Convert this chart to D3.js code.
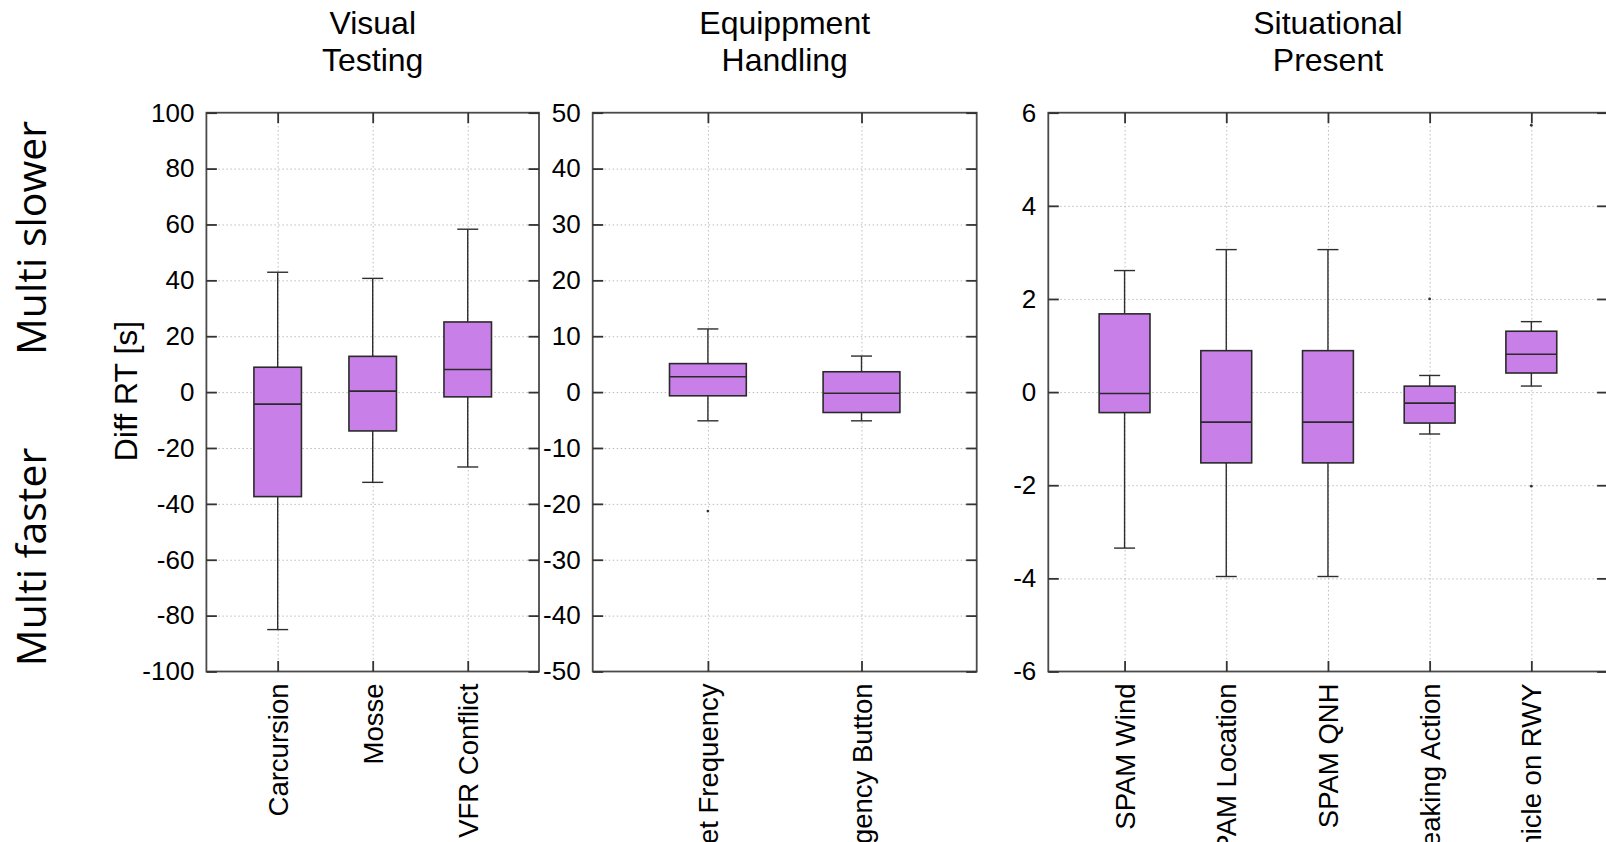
<!DOCTYPE html>
<html>
<head>
<meta charset="utf-8" />
<title>Diff RT boxplots</title>
<style>
html, body {
    margin: 0;
    padding: 0;
    background: #fff;
}
#chart {
    width: 1606px;
    height: 842px;
    overflow: hidden;
}
</style>
</head>
<body>
<div id="chart"></div>
<script src="https://cdn.jsdelivr.net/npm/d3@7"></script>
<script>
!(function(){
    "use strict"

    // ---- data ----
    var visualCats = ["Carcursion", "Mosse", "VFR Conflict"]
    var visualLow  = [-85.0, -32.3, -26.8]
    var visualQ1   = [-37.4, -13.9, -1.7]
    var visualMed  = [-4.3, 0.35, 8.1]
    var visualQ3   = [8.9, 12.8, 25.1]
    var visualHigh = [42.9, 40.7, 58.3]
    var visualOut  = []   // [category index, value]
    var visualTicks = [-100, -80, -60, -40, -20, 0, 20, 40, 60, 80, 100]

    var equipCats = ["Set Frequency", "Emergency Button"]
    var equipLow  = [-5.14, -5.14]
    var equipQ1   = [-0.66, -3.65]
    var equipMed  = [2.74, -0.2]
    var equipQ3   = [5.1, 3.64]
    var equipHigh = [11.3, 6.45]
    var equipOut  = [[0, -21.3]]
    var equipTicks = [-50, -40, -30, -20, -10, 0, 10, 20, 30, 40, 50]

    var situCats = ["SPAM Wind", "SPAM Location", "SPAM QNH", "Breaking Action", "Vehicle on RWY"]
    var situLow  = [-3.35, -3.96, -3.96, -0.90, 0.13]
    var situQ1   = [-0.44, -1.52, -1.52, -0.665, 0.41]
    var situMed  = [-0.03, -0.645, -0.645, -0.236, 0.814]
    var situQ3   = [1.68, 0.89, 0.89, 0.128, 1.307]
    var situHigh = [2.61, 3.06, 3.06, 0.357, 1.513]
    var situOut  = [[3, 2.0], [4, 5.73], [4, -2.02]]
    var situTicks = [-6, -4, -2, 0, 2, 4, 6]

    var panelTitles = [["Visual", "Testing"], ["Equippment", "Handling"], ["Situational", "Present"]]
    var yLabel = "Diff RT [s]"
    var sideLabels = ["Multi slower", "Multi faster"]

    // ---- layout ----
    var width = 1606, height = 842
    var top = 112.7, bottom = 671.5
    var tickLen = 10.5
    var fontMain = "'Liberation Sans', Arial, sans-serif"

    var panels = [
        {x0: 206.4, x1: 539.0, cats: visualCats, lo: visualLow, q1: visualQ1, med: visualMed, q3: visualQ3, hi: visualHigh, out: visualOut, ticks: visualTicks},
        {x0: 592.7, x1: 976.7, cats: equipCats, lo: equipLow, q1: equipQ1, med: equipMed, q3: equipQ3, hi: equipHigh, out: equipOut, ticks: equipTicks},
        {x0: 1048.3, x1: 1607.6, cats: situCats, lo: situLow, q1: situQ1, med: situMed, q3: situQ3, hi: situHigh, out: situOut, ticks: situTicks}
    ]

    var svg = d3.select("#chart").append("svg")
        .attr("width", width)
        .attr("height", height)
        .style("font-family", fontMain)

    panels.forEach(function(p, pi){ drawPanel(p, panelTitles[pi]) })

    // y label
    svg.append("text")
        .attr("transform", "translate(137,391) rotate(-90)")
        .attr("text-anchor", "middle")
        .attr("font-size", "32px")
        .attr("fill", "#000")
        .text(yLabel)

    // big side labels
    var sideY = [238, 557]
    sideLabels.forEach(function(t, i){
        svg.append("text")
            .attr("transform", "translate(46," + sideY[i] + ") rotate(-90)")
            .attr("text-anchor", "middle")
            .attr("font-family", "'Open Sans', 'Noto Sans', sans-serif")
            .attr("font-size", "41px")
            .attr("fill", "#000")
            .text(t)
    })

    function drawPanel(p, title) {
        var n = p.cats.length
        var ext = d3.extent(p.ticks)
        var x = d3.scaleLinear().domain([0.25, n + 0.75]).range([p.x0, p.x1])
        var y = d3.scaleLinear().domain(ext).range([bottom, top])
        var g = svg.append("g")
        var idx = d3.range(n)

        // grid
        g.append("g")
            .attr("transform", "translate(" + p.x0 + ",0)")
            .call(d3.axisLeft(y).tickValues(p.ticks.slice(1, -1)).tickSize(-(p.x1 - p.x0)).tickFormat(""))
            .call(function(s){
                s.select(".domain").remove()
                s.selectAll("line").attr("stroke", "#bcbcbc").attr("stroke-dasharray", "1.5,2.5")
            })
        g.append("g")
            .attr("transform", "translate(0," + bottom + ")")
            .call(d3.axisBottom(x).tickValues(d3.range(1, n + 1)).tickSize(-(bottom - top)).tickFormat(""))
            .call(function(s){
                s.select(".domain").remove()
                s.selectAll("line").attr("stroke", "#bcbcbc").attr("stroke-dasharray", "1.5,2.5")
            })

        // whiskers
        var wh = g.append("g").attr("stroke", "#2e2e2e").attr("stroke-width", 1.4)
        wh.selectAll(".wup").data(idx).enter().append("line")
            .attr("x1", function(i){ return x(i + 1) }).attr("x2", function(i){ return x(i + 1) })
            .attr("y1", function(i){ return y(p.q3[i]) }).attr("y2", function(i){ return y(p.hi[i]) })
        wh.selectAll(".wdn").data(idx).enter().append("line")
            .attr("x1", function(i){ return x(i + 1) }).attr("x2", function(i){ return x(i + 1) })
            .attr("y1", function(i){ return y(p.q1[i]) }).attr("y2", function(i){ return y(p.lo[i]) })
        wh.selectAll(".cap").data(idx.concat(idx)).enter().append("line")
            .attr("x1", function(i){ return x(i + 1) - 10.5 }).attr("x2", function(i){ return x(i + 1) + 10.5 })
            .attr("y1", function(i, k){ return y(k < n ? p.hi[i] : p.lo[i]) })
            .attr("y2", function(i, k){ return y(k < n ? p.hi[i] : p.lo[i]) })

        // boxes
        var bw = x(1.25) - x(0.75)
        g.selectAll(".box").data(idx).enter().append("rect")
            .attr("x", function(i){ return x(i + 1) - bw / 2 })
            .attr("y", function(i){ return y(p.q3[i]) })
            .attr("width", bw)
            .attr("height", function(i){ return y(p.q1[i]) - y(p.q3[i]) })
            .attr("fill", "#c880e8")
            .attr("stroke", "#2a2a2a")
            .attr("stroke-width", 1.6)
        g.selectAll(".med").data(idx).enter().append("line")
            .attr("x1", function(i){ return x(i + 1) - bw / 2 }).attr("x2", function(i){ return x(i + 1) + bw / 2 })
            .attr("y1", function(i){ return y(p.med[i]) }).attr("y2", function(i){ return y(p.med[i]) })
            .attr("stroke", "#2a2a2a")
            .attr("stroke-width", 1.6)

        // outliers
        g.selectAll(".out").data(p.out).enter().append("circle")
            .attr("cx", function(d){ return x(d[0] + 1) })
            .attr("cy", function(d){ return y(d[1]) })
            .attr("r", 1.4)
            .attr("fill", "#333")

        // frame
        g.append("rect")
            .attr("x", p.x0).attr("y", top)
            .attr("width", p.x1 - p.x0).attr("height", bottom - top)
            .attr("fill", "none")
            .attr("stroke", "#4a4a4a")
            .attr("stroke-width", 1.8)

        // left axis with labels, ticks pointing inside
        g.append("g")
            .attr("transform", "translate(" + p.x0 + ",0)")
            .call(d3.axisLeft(y).tickValues(p.ticks).tickSize(-tickLen).tickSizeOuter(0).tickPadding(12)
                .tickFormat(function(d){ return String(d) }))
            .call(styleAxis)
            .selectAll("text").attr("font-size", "26px")

        // right axis mirror ticks
        g.append("g")
            .attr("transform", "translate(" + p.x1 + ",0)")
            .call(d3.axisRight(y).tickValues(p.ticks).tickSize(-tickLen).tickSizeOuter(0).tickFormat(""))
            .call(styleAxis)

        // top mirror ticks
        g.append("g")
            .attr("transform", "translate(0," + top + ")")
            .call(d3.axisTop(x).tickValues(d3.range(1, n + 1)).tickSize(-tickLen).tickSizeOuter(0).tickFormat(""))
            .call(styleAxis)

        // bottom axis, rotated category names (long ones run off the page bottom, as in the original)
        g.append("g")
            .attr("transform", "translate(0," + bottom + ")")
            .call(d3.axisBottom(x).tickValues(d3.range(1, n + 1)).tickSize(-tickLen).tickSizeOuter(0)
                .tickFormat(function(d){ return p.cats[d - 1] }))
            .call(styleAxis)
            .selectAll("text")
            .attr("transform", "rotate(-90)")
            .attr("text-anchor", "end")
            .attr("x", -12)
            .attr("y", 0)
            .attr("dy", "0.35em")
            .attr("font-size", "27.5px")

        // title
        var cx = (p.x0 + p.x1) / 2
        g.append("text")
            .attr("x", cx)
            .attr("y", 33.5)
            .attr("text-anchor", "middle")
            .attr("font-size", "32px")
            .attr("fill", "#000")
            .selectAll("tspan").data(title).enter().append("tspan")
            .attr("x", cx)
            .attr("dy", function(d, i){ return i ? 37.5 : 0 })
            .text(function(d){ return d })
    }

    function styleAxis(s) {
        s.attr("font-family", null).attr("font-size", null)
        s.select(".domain").remove()
        s.selectAll("line").attr("stroke", "#333").attr("stroke-width", 1.8)
        s.selectAll("text").attr("fill", "#000")
    }

}());
</script>
</body>
</html>
